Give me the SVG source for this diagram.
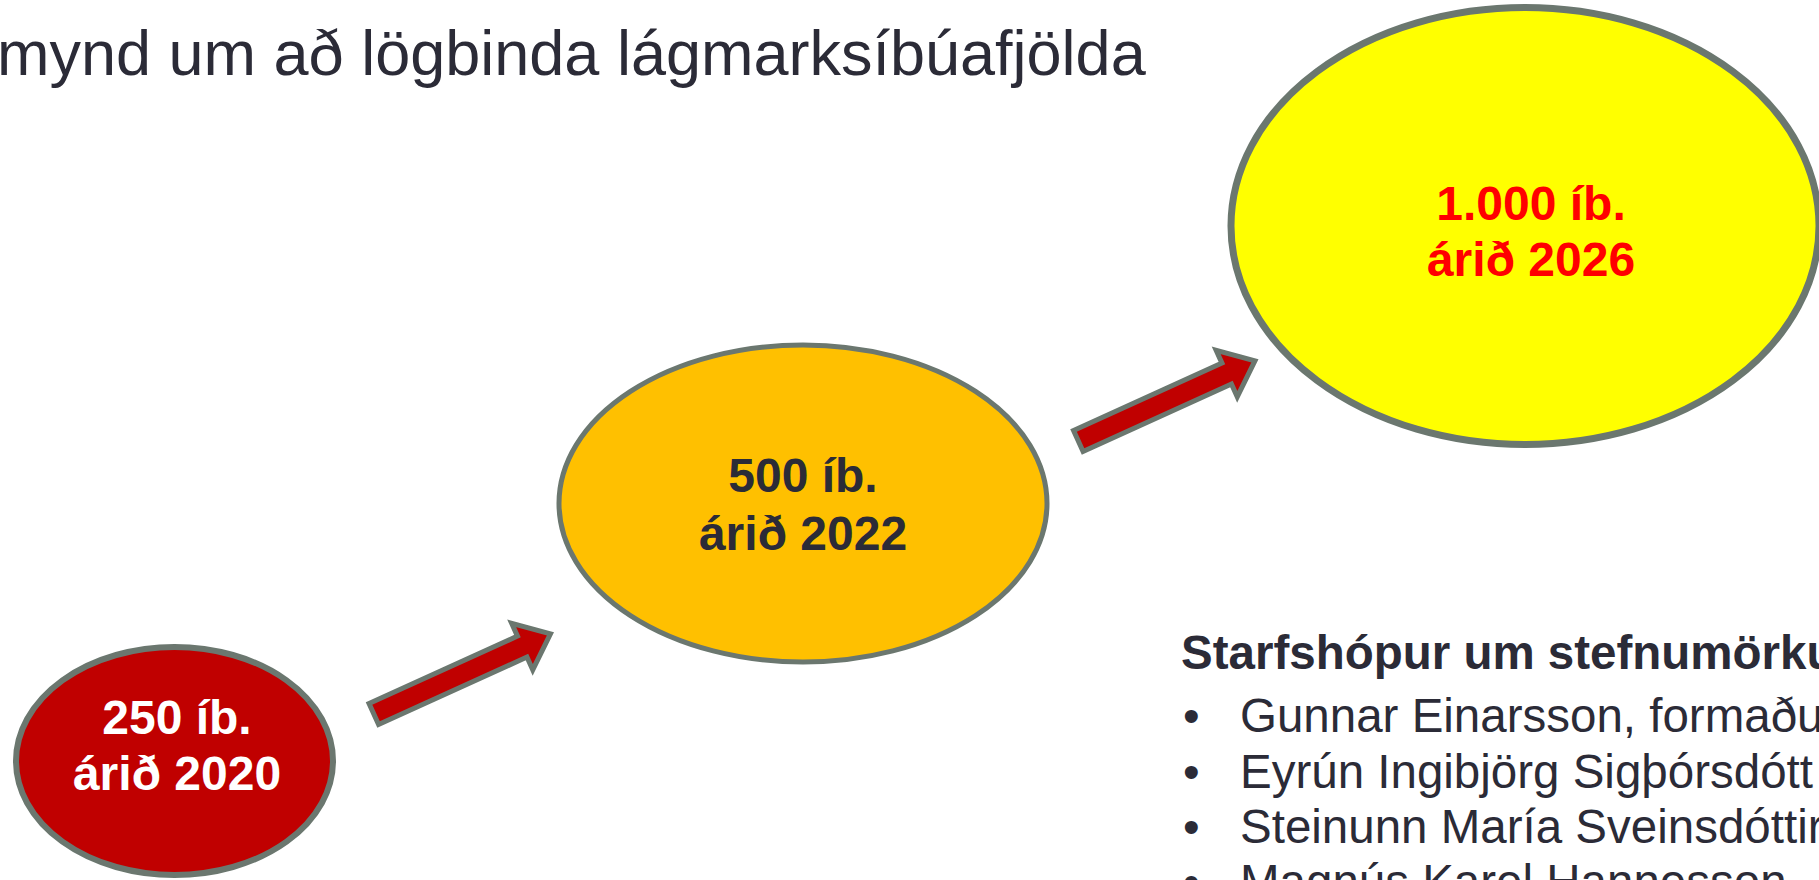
<svg xmlns="http://www.w3.org/2000/svg" width="1819" height="880" viewBox="0 0 1819 880">
<style>
  .title { font-family: "Liberation Sans", Arial, sans-serif; font-size: 63px; fill: #2B2B37; }
  .node { stroke: #6B776F; }
  .lbl { font-family: "Liberation Sans", Arial, sans-serif; font-size: 48px; font-weight: bold; text-anchor: middle; }
  .arrow { fill: #C00000; stroke: #6B776F; stroke-width: 5; stroke-linejoin: miter; stroke-miterlimit: 10; }
  .list { font-family: "Liberation Sans", Arial, sans-serif; font-size: 47.5px; fill: #2B2B37; }
  .hdr { font-weight: bold; }
</style>
<defs>
  <path id="arrowShape" d="M0,-11.5 L163,-11.5 L163,-25.5 L194,0 L163,25.5 L163,11.5 L0,11.5 Z"/>
</defs>
<rect width="1819" height="880" fill="#FFFFFF"/>

<text id="title" class="title" x="-3" y="75">mynd um að lögbinda lágmarksíbúafjölda</text>

<g id="connectors">
  <use href="#arrowShape" class="arrow" transform="translate(373.8,714) rotate(-24.43)"/>
  <use href="#arrowShape" class="arrow" transform="translate(1078.3,441) rotate(-24.43)"/>
</g>

<g id="node-2020">
  <ellipse class="node" cx="174.5" cy="761" rx="158.5" ry="114" fill="#C00000" stroke-width="6"/>
  <text class="lbl" x="177" y="734" fill="#FFFFFF">250 íb.</text>
  <text class="lbl" x="177" y="790" fill="#FFFFFF">árið 2020</text>
</g>

<g id="node-2022">
  <ellipse class="node" cx="803" cy="503.5" rx="244" ry="158.5" fill="#FFC000" stroke-width="5"/>
  <text class="lbl" x="803" y="492" fill="#2B2B37">500 íb.</text>
  <text class="lbl" x="803" y="550" fill="#2B2B37">árið 2022</text>
</g>

<g id="node-2026">
  <ellipse class="node" cx="1525" cy="226" rx="294" ry="218.5" fill="#FFFF00" stroke-width="7"/>
  <text class="lbl" x="1531" y="220" fill="#FF0000">1.000 íb.</text>
  <text class="lbl" x="1531" y="276" fill="#FF0000">árið 2026</text>
</g>

<g id="members" class="list">
  <text class="hdr" x="1181" y="669">Starfshópur um stefnumörku</text>
  <text x="1183" y="732">•</text>
  <text x="1240" y="732">Gunnar Einarsson, formaðu</text>
  <text x="1183" y="788">•</text>
  <text x="1240" y="788">Eyrún Ingibjörg Sigþórsdótt</text>
  <text x="1183" y="843">•</text>
  <text x="1240" y="843">Steinunn María Sveinsdóttir</text>
  <text x="1183" y="898">•</text>
  <text x="1240" y="898">Magnús Karel Hannesson</text>
</g>
</svg>
